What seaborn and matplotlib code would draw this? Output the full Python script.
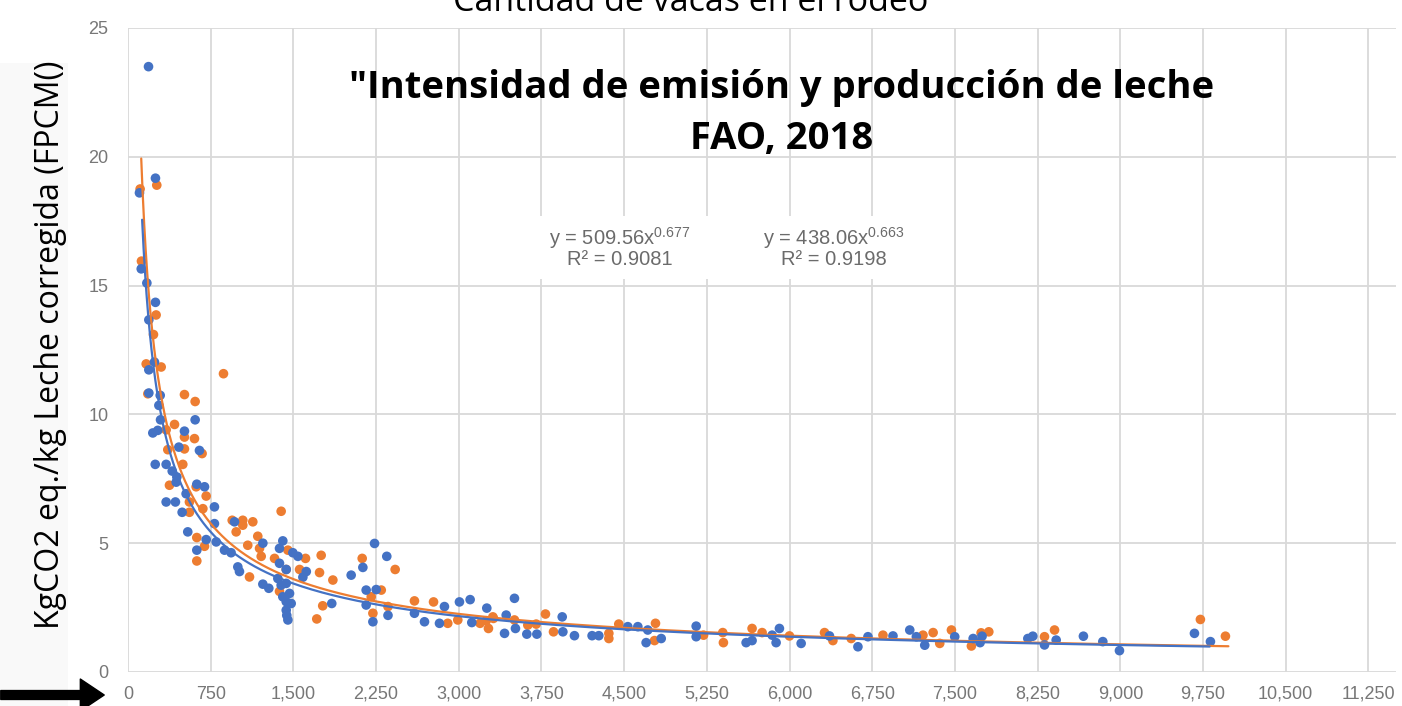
import numpy as np
import pandas as pd
import seaborn as sns
import matplotlib.pyplot as plt
from matplotlib.patches import Rectangle, FancyArrowPatch

# ---------------- data ----------------
blue_x = [186, 249, 104, 120, 171, 249, 189, 189, 240, 189, 292, 280, 609, 295, 512, 225, 270,
          461, 648, 247, 346, 401, 443, 437, 624, 694, 527, 346, 430, 784, 491, 784, 966, 542,
          709, 800, 624, 875, 935, 1223, 1404, 1374, 1495, 1541, 996, 1011, 1223, 1277, 1374,
          1435, 1617, 1586, 2024, 2130, 2236, 2347, 1359, 1389, 1435, 1404, 1465, 1435, 1480,
          1435, 1450, 1440, 1848, 2160, 2251, 2221, 2160, 2358, 2598, 2689, 2825, 2870, 3006,
          3103, 3118, 3254, 3505, 3430, 3415, 3514, 3617, 3708, 3938, 3944, 4049, 4209, 4270,
          4533, 4624, 4714, 4699, 4836, 5153, 5153, 5606, 5660, 5842, 5908, 5878, 6105, 6362,
          6620, 6711, 6938, 7090, 7150, 7226, 7498, 7665, 7728, 7746, 8161, 8206, 8312, 8418,
          8665, 8841, 8992, 9672, 9817]
blue_y = [23.5, 19.17, 18.6, 15.65, 15.1, 14.35, 13.67, 11.73, 12.03, 10.83, 10.74, 10.35, 9.79,
          9.79, 9.35, 9.28, 9.38, 8.73, 8.6, 8.06, 8.06, 7.8, 7.57, 7.37, 7.29, 7.19, 6.92, 6.6,
          6.6, 6.41, 6.2, 5.76, 5.83, 5.44, 5.14, 5.05, 4.73, 4.73, 4.63, 5.0, 5.09, 4.8, 4.63,
          4.49, 4.08, 3.9, 3.41, 3.25, 4.22, 3.98, 3.9, 3.68, 3.76, 4.06, 4.99, 4.49, 3.63, 3.37,
          3.44, 2.92, 3.05, 2.73, 2.66, 2.4, 2.02, 2.2, 2.66, 3.18, 3.2, 1.95, 2.6, 2.2, 2.28,
          1.95, 1.89, 2.54, 2.72, 2.81, 1.92, 2.48, 2.86, 2.21, 1.5, 1.69, 1.47, 1.47, 2.14, 1.56,
          1.41, 1.41, 1.41, 1.76, 1.76, 1.63, 1.14, 1.3, 1.78, 1.37, 1.14, 1.22, 1.43, 1.69, 1.14,
          1.11, 1.4, 0.98, 1.37, 1.4, 1.63, 1.37, 1.04, 1.37, 1.3, 1.14, 1.39, 1.3, 1.39, 1.05,
          1.24, 1.39, 1.18, 0.83, 1.5, 1.18]

orange_x = [110, 261, 122, 255, 231, 165, 301, 866, 180, 512, 609, 422, 346, 603, 512, 672, 361,
            512, 497, 376, 618, 709, 557, 679, 557, 1389, 945, 1041, 1132, 981, 1041, 624, 694,
            624, 1086, 1177, 1450, 1193, 1208, 1610, 1752, 1102, 1329, 1435, 1556, 1737, 1858,
            2124, 2423, 1374, 1712, 1766, 2206, 2297, 2221, 2358, 2598, 2771, 2900, 2991, 3193,
            3269, 3314, 3309, 3249, 3505, 3626, 3702, 3786, 3859, 4361, 4361, 4451, 4784, 4775,
            5220, 5394, 5400, 5660, 5751, 5999, 6317, 6393, 6559, 6847, 7210, 7302, 7362, 7468,
            7649, 7737, 7807, 8312, 8403, 9726, 9953]
orange_y = [18.75, 18.9, 15.95, 13.86, 13.1, 11.96, 11.84, 11.58, 10.8, 10.77, 10.5, 9.61, 9.4,
            9.06, 9.12, 8.48, 8.63, 8.66, 8.06, 7.25, 7.19, 6.83, 6.6, 6.34, 6.2, 6.24, 5.89, 5.89,
            5.83, 5.44, 5.7, 5.22, 4.88, 4.31, 4.92, 5.27, 4.73, 4.8, 4.49, 4.41, 4.53, 3.69, 4.41,
            3.98, 3.98, 3.86, 3.57, 4.41, 3.98, 3.13, 2.06, 2.57, 2.92, 3.18, 2.28, 2.54, 2.76,
            2.72, 1.89, 2.02, 1.89, 1.69, 2.08, 2.14, 1.99, 2.02, 1.82, 1.86, 2.25, 1.56, 1.3, 1.5,
            1.86, 1.89, 1.22, 1.43, 1.53, 1.14, 1.69, 1.53, 1.4, 1.53, 1.22, 1.3, 1.43, 1.43, 1.53,
            1.11, 1.63, 1.01, 1.52, 1.56, 1.37, 1.63, 2.04, 1.39]

# power-law trend lines as printed on the chart: y = a * x^(-b)
fit_a = {"orange": 509.56, "blue": 438.06}
fit_b = {"orange": 0.677, "blue": 0.663}
fit_range = {"orange": (120, 9980), "blue": (128, 9810)}
eq_labels = ["y = 509.56x$^{0.677}$\nR² = 0.9081", "y = 438.06x$^{0.663}$\nR² = 0.9198"]

x_ticks = list(range(0, 11251, 750))
y_ticks = [0, 5, 10, 15, 20, 25]

title_top = "Cantidad de vacas en el rodeo"
title_main = ['"Intensidad de emisión y producción de leche', "FAO, 2018"]
y_label = "KgCO2 eq./kg Leche corregida (FPCM()"

BLUE = "#4472C4"
ORANGE = "#ED7D31"

# ---------------- plotting ----------------
sns.set_theme(style="whitegrid")
plt.rcParams["font.family"] = ["Liberation Sans", "DejaVu Sans"]
plt.rcParams["mathtext.fontset"] = "custom"
plt.rcParams["mathtext.rm"] = "Liberation Sans"
plt.rcParams["mathtext.it"] = "Liberation Sans"

W, H = 1402, 706
fig = plt.figure(figsize=(W / 100, H / 100), dpi=100)
fig.patch.set_facecolor("white")

def fx(px):
    return px / W

def fy(py):
    return 1 - py / H

# faint panel behind the y label
fig.add_artist(Rectangle((0, 0), fx(68), (H - 63) / H, transform=fig.transFigure,
                         facecolor="#f9f9f9", edgecolor="none", zorder=0))

ax = fig.add_axes([fx(128), fy(672), (1396 - 128) / W, (672 - 28) / H])
ax.set_facecolor("white")

df = pd.concat([
    pd.DataFrame({"vacas": orange_x, "intensidad": orange_y, "serie": "orange"}),
    pd.DataFrame({"vacas": blue_x, "intensidad": blue_y, "serie": "blue"}),
], ignore_index=True)

sns.scatterplot(data=df, x="vacas", y="intensidad", hue="serie",
                palette={"orange": ORANGE, "blue": BLUE}, s=48, edgecolor="none",
                linewidth=0, legend=False, ax=ax, zorder=3)

for key, col in (("orange", ORANGE), ("blue", BLUE)):
    lo, hi = fit_range[key]
    xs = np.geomspace(lo, hi, 400)
    ys = fit_a[key] * xs ** (-fit_b[key])
    sns.lineplot(x=xs, y=ys, color=col, lw=1.6, ax=ax, zorder=4, sort=False)

ax.set_xlim(0, 11500)
ax.set_ylim(0, 25)
ax.set_xticks(x_ticks)
ax.set_xticklabels([f"{v:,}" for v in x_ticks])
ax.set_yticks(y_ticks)
ax.set_yticklabels([str(v) for v in y_ticks])
ax.grid(True, color="#d9d9d9", lw=1.3)
for s in ax.spines.values():
    s.set_visible(False)
ax.tick_params(axis="both", length=0, labelsize=13, colors="#777777")
ax.tick_params(axis="x", pad=10)
ax.tick_params(axis="y", pad=14)
ax.set_xlabel("")
ax.set_ylabel("")

# white box behind the trendline equations
ax.add_patch(Rectangle((3550, 15.25), 3800, 2.45, facecolor="white", edgecolor="none", zorder=2))

for lab, px in zip(eq_labels, (620, 834)):
    fig.text(fx(px), fy(247), lab, ha="center", va="center", fontsize=14.5, color="#6b6b6b",
             linespacing=0.95, zorder=5)

# titles
fig.text(fx(691), fy(11), title_top, ha="center", va="baseline", fontsize=24.5,
         family=["Open Sans", "DejaVu Sans"], color="black")
fig.text(fx(782), fy(88), title_main[0], ha="center", va="center", fontsize=27.5,
         fontweight="bold", family=["Open Sans", "DejaVu Sans"], color="black")
fig.text(fx(782), fy(139), title_main[1], ha="center", va="center", fontsize=27.5,
         fontweight="bold", family=["Open Sans", "DejaVu Sans"], color="black")

fig.text(fx(51), fy(345), y_label, rotation=90, ha="center", va="center", fontsize=23,
         family=["Open Sans", "DejaVu Sans"], color="black")

# arrow at bottom-left
arr = FancyArrowPatch((fx(-2), fy(695)), (fx(107), fy(695)), transform=fig.transFigure,
                      arrowstyle="simple,head_width=1.15,head_length=0.86,tail_width=0.32",
                      mutation_scale=20, color="black", zorder=6)
fig.add_artist(arr)

fig.savefig("out.png", dpi=100)
